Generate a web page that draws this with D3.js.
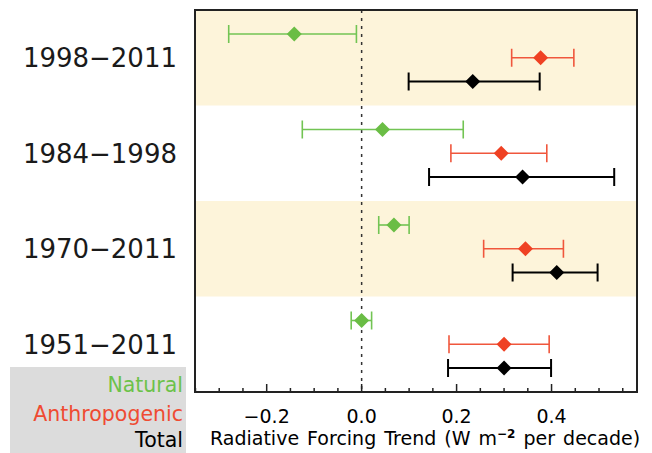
<!DOCTYPE html>
<html>
<head>
<meta charset="utf-8">
<script src="https://cdn.jsdelivr.net/npm/d3@7"></script>
<style>
  html, body { margin: 0; padding: 0; background: #fff; }
  svg { display: block; font-family: "DejaVu Sans", sans-serif; }
</style>
</head>
<body>
<svg id="chart" width="652" height="453"></svg>
<script>
// ---- data ----
const periods = ["1998\u22122011", "1984\u22121998", "1970\u22122011", "1951\u22122011"];
const seriesNames = ["Natural", "Anthropogenic", "Total"];

const naturalMid = [-0.142, 0.044, 0.068, 0.000];
const naturalLo  = [-0.280, -0.125, 0.036, -0.022];
const naturalHi  = [-0.011, 0.214, 0.100, 0.021];

const anthroMid = [0.377, 0.294, 0.345, 0.300];
const anthroLo  = [0.316, 0.188, 0.257, 0.184];
const anthroHi  = [0.447, 0.390, 0.425, 0.395];

const totalMid = [0.234, 0.339, 0.411, 0.300];
const totalLo  = [0.099, 0.142, 0.318, 0.182];
const totalHi  = [0.375, 0.532, 0.497, 0.399];

const majorTicks = [-0.2, 0.0, 0.2, 0.4];
const xTitle = "Radiative Forcing Trend (W m";
const xTitleSup = "\u22122";
const xTitleEnd = " per decade)";

// ---- layout ----
const svg = d3.select("#chart");
const L = 195, R = 637, T = 10, B = 392;

const x = d3.scaleLinear().domain([-0.351, 0.580]).range([L, R]);
const yBand = d3.scaleBand().domain(periods).range([T, B]).padding(0);
const ySeries = d3.scalePoint().domain(seriesNames).range([24, 71.5]);

const colors = {
  "Natural": {line: "#72c453", fill: "#6abd45", text: "#6cc24a"},
  "Anthropogenic": {line: "#f0563c", fill: "#ef4123", text: "#ef4b32"},
  "Total": {line: "#000", fill: "#000", text: "#000"}
};

// shaded bands
svg.selectAll("rect.band")
  .data(periods.filter((d, i) => i % 2 === 0))
  .enter().append("rect")
  .attr("x", L).attr("width", R - L)
  .attr("y", d => yBand(d)).attr("height", yBand.bandwidth())
  .attr("fill", "#fdf4da");

// zero dotted line
svg.append("line")
  .attr("x1", x(0)).attr("x2", x(0))
  .attr("y1", T).attr("y2", B)
  .attr("stroke", "#333").attr("stroke-width", 1.5)
  .attr("stroke-dasharray", "3,5");

// records
const records = [];
periods.forEach((p, i) => {
  records.push({p, s: "Natural", mid: naturalMid[i], lo: naturalLo[i], hi: naturalHi[i]});
  records.push({p, s: "Anthropogenic", mid: anthroMid[i], lo: anthroLo[i], hi: anthroHi[i]});
  records.push({p, s: "Total", mid: totalMid[i], lo: totalLo[i], hi: totalHi[i]});
});
const yOf = d => yBand(d.p) + ySeries(d.s);

const g = svg.append("g");
records.forEach(d => {
  const c = colors[d.s];
  const sw = d.s === "Total" ? 2 : 1.6;
  const y = yOf(d);
  g.append("line").attr("x1", x(d.lo)).attr("x2", x(d.hi)).attr("y1", y).attr("y2", y)
    .attr("stroke", c.line).attr("stroke-width", sw);
  [d.lo, d.hi].forEach(v => {
    g.append("line").attr("x1", x(v)).attr("x2", x(v)).attr("y1", y - 9).attr("y2", y + 9)
      .attr("stroke", c.line).attr("stroke-width", sw);
  });
  const cx = x(d.mid), h = 7.5;
  g.append("path")
    .attr("d", `M${cx - h},${y}L${cx},${y - h}L${cx + h},${y}L${cx},${y + h}Z`)
    .attr("fill", c.fill);
});

// frame
svg.append("rect").attr("x", L).attr("y", T).attr("width", R - L).attr("height", B - T)
  .attr("fill", "none").attr("stroke", "#222").attr("stroke-width", 2);

// ticks (inside, bottom)
const minorTicks = d3.range(-0.35, 0.5801, 0.05).map(v => Math.round(v * 100) / 100)
  .filter(v => v > -0.351 && v < 0.58 && !majorTicks.some(m => Math.abs(m - v) < 1e-6));
const axis = d3.axisBottom(x).tickValues(majorTicks).tickSize(0).tickFormat(() => "");
svg.append("g").attr("transform", `translate(0,${B})`).call(axis).select(".domain").remove();
svg.selectAll("line.major").data(majorTicks).enter().append("line")
  .attr("x1", d => x(d)).attr("x2", d => x(d)).attr("y1", B).attr("y2", B - 8)
  .attr("stroke", "#222").attr("stroke-width", 1.5);
svg.selectAll("line.minor").data(minorTicks).enter().append("line")
  .attr("x1", d => x(d)).attr("x2", d => x(d)).attr("y1", B).attr("y2", B - 4)
  .attr("stroke", "#222").attr("stroke-width", 1.5);

// tick labels
svg.selectAll("text.tick").data(majorTicks).enter().append("text")
  .attr("x", d => x(d)).attr("y", 423)
  .attr("text-anchor", "middle").attr("font-size", 19).attr("fill", "#000")
  .text(d => d3.format(".1f")(d).replace("-", "\u2212"));

// x title
const tt = svg.append("text").attr("x", 210).attr("y", 445).attr("font-size", 19)
  .attr("word-spacing", 2).attr("fill", "#000");
tt.append("tspan").text(xTitle);
tt.append("tspan").attr("dy", -7).attr("font-size", 12).attr("font-weight", "bold").text(xTitleSup);
tt.append("tspan").attr("dy", 7).text(xTitleEnd);

// period labels
svg.selectAll("text.period").data(periods).enter().append("text")
  .attr("x", 177).attr("y", d => yBand(d) + yBand.bandwidth() / 2 + 9.5)
  .attr("text-anchor", "end").attr("font-size", 26).attr("fill", "#1a1a1a")
  .text(d => d);

// legend
svg.append("rect").attr("x", 10).attr("y", 367).attr("width", 176).attr("height", 86)
  .attr("fill", "#dcdcdc");
const legY = [391.5, 421, 446.5];
svg.selectAll("text.leg").data(seriesNames).enter().append("text")
  .attr("x", 183).attr("y", (d, i) => legY[i])
  .attr("text-anchor", "end").attr("font-size", 20.5)
  .attr("fill", d => colors[d].text)
  .text(d => d);
</script>
</body>
</html>
